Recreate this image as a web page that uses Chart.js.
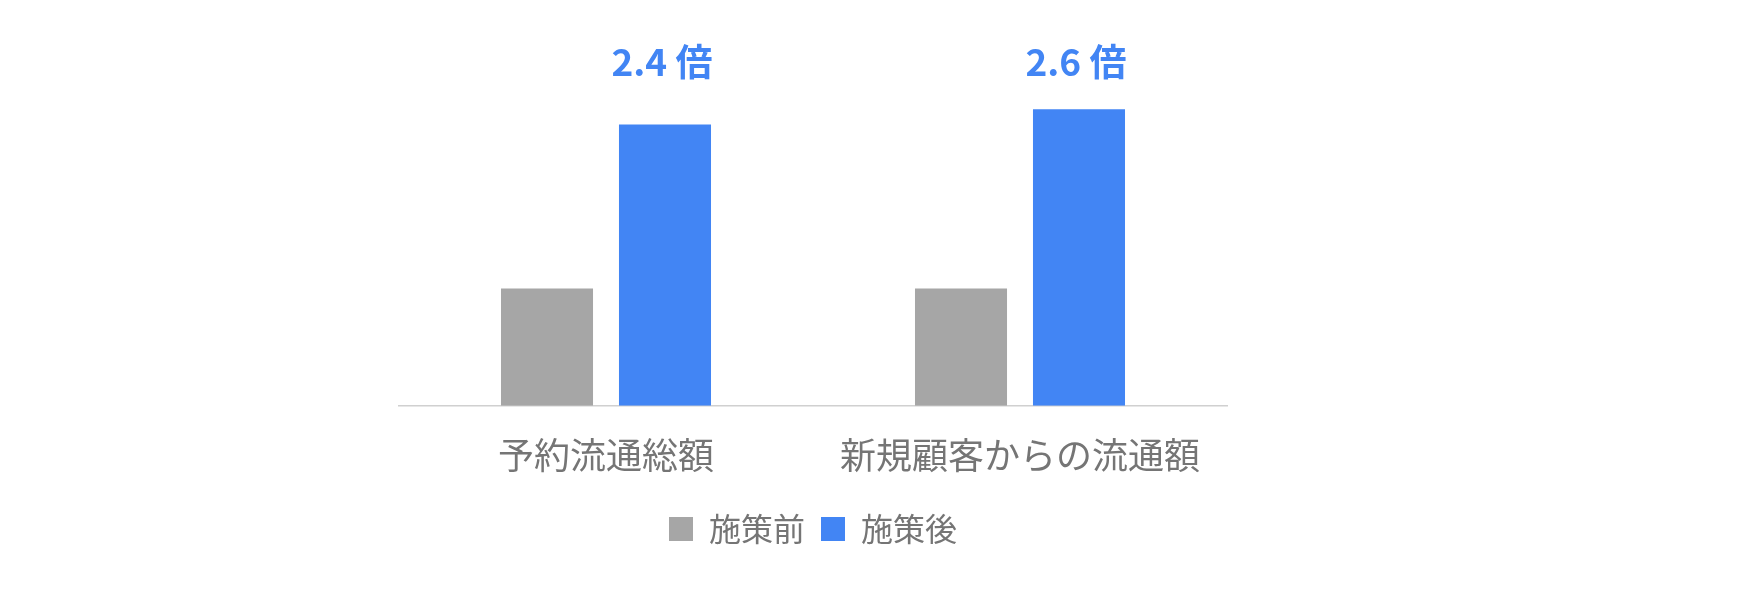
<html>
  <head>
    <script src="https://cdn.jsdelivr.net/npm/chart.js@4/dist/chart.umd.min.js"></script>
    <style>
      body { margin: 0; background: #fff; }
      #wrap { width: 1745px; height: 600px; }
    </style>
  </head>
  <body>
    <div id="wrap"><canvas id="c"></canvas></div>
    <script>
      var categories = ['予約流通総額', '新規顧客からの流通額']
      var beforeValues = [1.0, 1.0]
      var afterValues = [2.4, 2.53]
      var ratioLabels = ['2.4 倍', '2.6 倍']
      var font = '"Noto Sans CJK JP", "Noto Sans", sans-serif'

      var ratioPlugin = {
        id: 'ratio',
        afterDatasetsDraw: function (chart) {
          var ctx = chart.ctx
          var meta = chart.getDatasetMeta(1)
          ctx.save()
          ctx.fillStyle = '#4285f4'
          ctx.font = 'bold 37px ' + font
          ctx.textAlign = 'center'
          ctx.textBaseline = 'middle'
          meta.data.forEach(function (bar, i) {
            ctx.fillText(ratioLabels[i], bar.x - 3, 62)
          })
          ctx.restore()
        }
      }

      new Chart(document.getElementById('c'), {
        type: 'bar',
        data: {
          labels: categories,
          datasets: [
            { label: '施策前', data: beforeValues, backgroundColor: '#a6a6a6' },
            { label: '施策後', data: afterValues, backgroundColor: '#4285f4' }
          ]
        },
        options: {
          responsive: true,
          maintainAspectRatio: false,
          animation: false,
          categoryPercentage: 0.57,
          barPercentage: 0.78,
          layout: { padding: { left: 399, right: 518, top: 40, bottom: 45 } },
          plugins: {
            tooltip: { enabled: false },
            legend: {
              position: 'bottom',
              labels: {
                color: '#757575',
                font: { family: font, size: 32 },
                boxWidth: 24,
                boxHeight: 24,
                padding: 16
              }
            }
          },
          scales: {
            x: {
              grid: { display: false },
              border: { color: '#d0d0d0', width: 1.5 },
              ticks: { color: '#757575', font: { family: font, size: 36 }, padding: 20 }
            },
            y: { display: false, min: 0, max: 3.12 }
          }
        },
        plugins: [ratioPlugin]
      })
    </script>
  </body>
</html>
